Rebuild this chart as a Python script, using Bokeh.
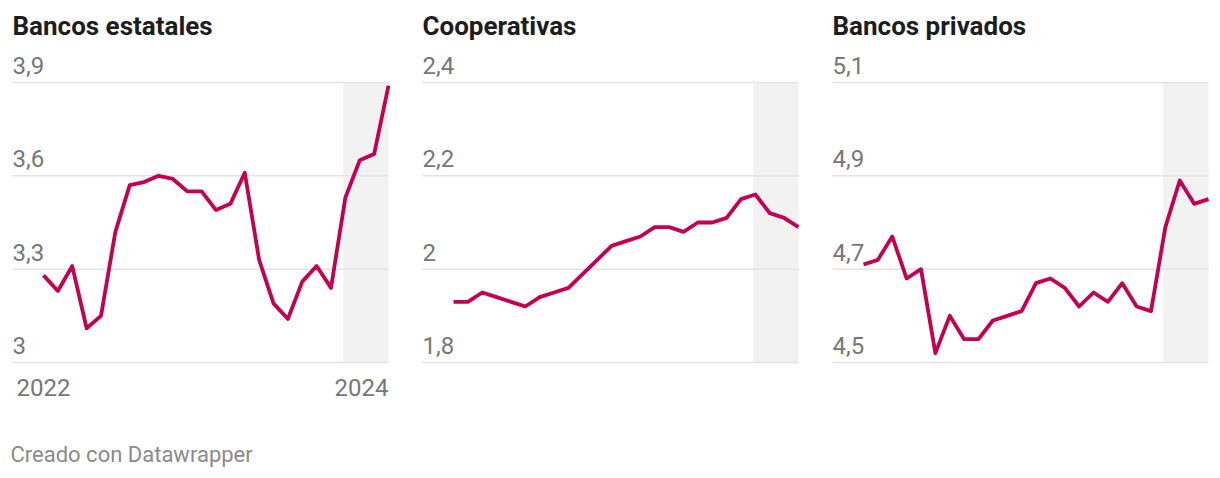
from bokeh.plotting import figure
from bokeh.layouts import row
from bokeh.models import Label, Range1d, ColumnDataSource
from bokeh.embed import file_html
from bokeh.resources import INLINE

# ---- data ----
months = list(range(25))  # monthly index, Jan 2022 .. Jan 2024
estatales = [3.28, 3.23, 3.31, 3.11, 3.15, 3.42, 3.57, 3.58, 3.60, 3.59, 3.55, 3.55,
             3.49, 3.51, 3.61, 3.33, 3.19, 3.14, 3.26, 3.31, 3.24, 3.53, 3.65, 3.67, 3.89]
cooperativas = [1.93, 1.93, 1.95, 1.94, 1.93, 1.92, 1.94, 1.95, 1.96, 1.99, 2.02, 2.05,
                2.06, 2.07, 2.09, 2.09, 2.08, 2.10, 2.10, 2.11, 2.15, 2.16, 2.12, 2.11, 2.09]
privados = [4.71, 4.72, 4.77, 4.68, 4.70, 4.52, 4.60, 4.55, 4.55, 4.59, 4.60, 4.61,
            4.67, 4.68, 4.66, 4.62, 4.65, 4.63, 4.67, 4.62, 4.61, 4.79, 4.89, 4.84, 4.85]
series = [estatales, cooperativas, privados]
titles = ["Bancos estatales", "Cooperativas", "Bancos privados"]
y_ticks = [[3.0, 3.3, 3.6, 3.9], [1.8, 2.0, 2.2, 2.4], [4.5, 4.7, 4.9, 5.1]]
y_tick_labels = [["3", "3,3", "3,6", "3,9"], ["1,8", "2", "2,2", "2,4"], ["4,5", "4,7", "4,9", "5,1"]]
x_tick_pos = [0, 24]
x_tick_labels = ["2022", "2024"]
shade_start = 20.85
shade_end = 24
footer = "Creado con Datawrapper"

# ---- style ----
FONT = "Roboto"
LINE_COLOR = "#c5004f"
GRID_COLOR = "#e3e3e3"
TICK_COLOR = "#777777"
TITLE_COLOR = "#1d1d1d"
FOOT_COLOR = "#8a8a8a"

H = 478
GRID_TOP, GRID_BOTTOM = 82, 362      # pixel rows of top / bottom gridline
FIRST_X, LAST_X = 43, 388           # pixel columns of first / last month
PLOT_LEFT = 12                      # left end of gridlines
XSCALE = (LAST_X - FIRST_X) / (months[-1] - months[0])   # px per month


def panel(i, width):
    ticks = y_ticks[i]
    lo, hi = ticks[0], ticks[-1]
    ysc = (GRID_BOTTOM - GRID_TOP) / (hi - lo)
    x0 = months[0] - FIRST_X / XSCALE
    x1 = x0 + width / XSCALE
    y0 = lo - (H - GRID_BOTTOM) / ysc
    y1 = hi + GRID_TOP / ysc
    xl = months[0] - (FIRST_X - PLOT_LEFT) / XSCALE
    p = figure(width=width, height=H,
               x_range=Range1d(x0, x1), y_range=Range1d(y0, y1),
               x_axis_type=None, y_axis_type=None,
               toolbar_location=None, output_backend="svg",
               min_border=0)
    p.outline_line_color = None
    p.grid.visible = False
    p.background_fill_color = "white"
    p.border_fill_color = "white"
    p.quad(left=[shade_start], right=[shade_end], bottom=[lo], top=[hi],
           fill_color="#f2f2f2", line_color=None)
    p.segment(x0=[xl] * len(ticks), x1=[months[-1]] * len(ticks), y0=ticks, y1=ticks,
              line_color=GRID_COLOR, line_width=1.5)
    src = ColumnDataSource(dict(x=months, y=series[i]))
    p.line("x", "y", source=src, line_color=LINE_COLOR, line_width=3.8,
           line_join="round")
    for t, lab in zip(ticks, y_tick_labels[i]):
        p.add_layout(Label(x=xl, y=t, y_offset=17, text=lab,
                           text_font=FONT, text_font_size="24px",
                           text_color=TICK_COLOR, text_baseline="alphabetic",
                           text_align="left"))
    p.add_layout(Label(x=xl, y=hi, y_offset=57, text=titles[i],
                       text_font=FONT, text_font_size="26px", text_font_style="bold",
                       text_color=TITLE_COLOR, text_baseline="alphabetic",
                       text_align="left"))
    return p, xl


p1, xl1 = panel(0, 410)
for pos, lab, al in zip(x_tick_pos, x_tick_labels, ["center", "right"]):
    p1.add_layout(Label(x=pos, y=y_ticks[0][0], y_offset=-25, text=lab,
                        text_font=FONT, text_font_size="24px", text_color=TICK_COLOR,
                        text_baseline="alphabetic", text_align=al))
p1.add_layout(Label(x=xl1, y=y_ticks[0][0], x_offset=-2, y_offset=-92, text=footer,
                    text_font=FONT, text_font_size="22px", text_color=FOOT_COLOR,
                    text_baseline="alphabetic", text_align="left"))
p2, _ = panel(1, 410)
p3, _ = panel(2, 400)

layout = row(p1, p2, p3)
open("out.html", "w").write(file_html(layout, INLINE))
